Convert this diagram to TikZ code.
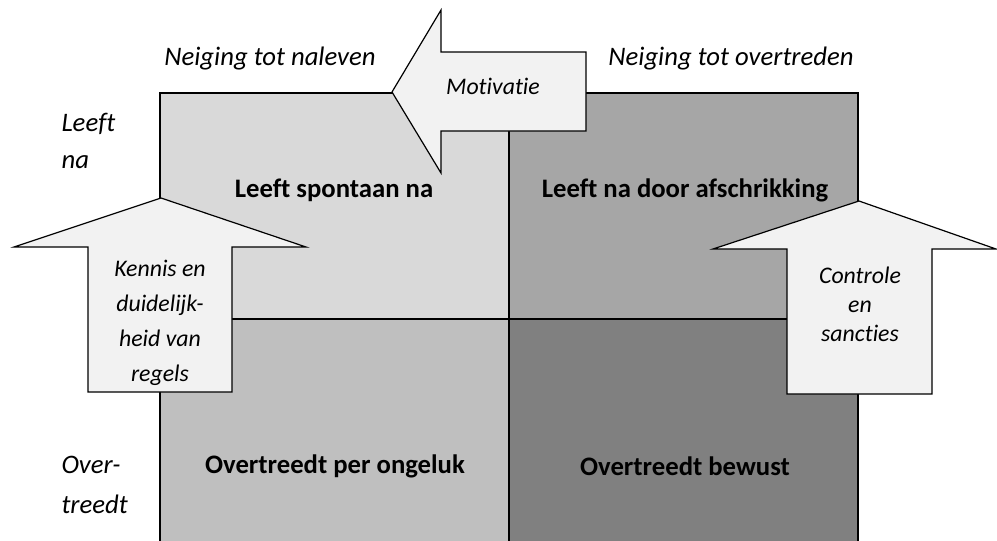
\documentclass[tikz,border=0pt]{standalone}
\usepackage{fontspec}
\setmainfont{Carlito}[Ligatures=NoCommon]
\usetikzlibrary{positioning}
\definecolor{quadnaleven}{HTML}{D9D9D9}
\definecolor{quadafschrik}{HTML}{A6A6A6}
\definecolor{quadongeluk}{HTML}{BFBFBF}
\definecolor{quadbewust}{HTML}{808080}
\definecolor{arrowfill}{HTML}{F2F2F2}
\begin{document}
\begin{tikzpicture}[x=1pt,y=-1pt,
    quad/.style={draw=black,line width=1.6pt,inner sep=0pt,outer sep=0pt,
      minimum width=349pt,minimum height=226pt,anchor=north west},
    bigarrow/.style={draw=black,line width=1.2pt,fill=arrowfill,line join=miter},
    quadlabel/.style={font=\fontsize{26.7}{32}\selectfont\bfseries},
    axislabel/.style={font=\fontsize{26.7}{32}\selectfont\itshape},
    arrowlabel/.style={font=\fontsize{23.8}{28}\selectfont\itshape,align=center}]
  \useasboundingbox (0,0) rectangle (997,541);

  % quadrants
  \node[quad,fill=quadnaleven] (naleven) at (160,93) {};
  \node[quad,fill=quadafschrik] (afschrik) at (509,93) {};
  \node[quad,fill=quadongeluk,minimum height=240pt] (ongeluk) at (160,319) {};
  \node[quad,fill=quadbewust,minimum height=240pt] (bewust) at (509,319) {};

  \node[quadlabel] (lspontaan) at (334,190) {Leeft spontaan na};
  \node[quadlabel] (lafschrik) at (685,190) {Leeft na door afschrikking};
  \node[quadlabel] (longeluk) at (335,466) {Overtreedt per ongeluk};
  \node[quadlabel] (lbewust) at (685,466) {Overtreedt bewust};

  % axes
  \node[axislabel] (naleving) at (270,59) {Neiging tot naleven};
  \node[axislabel] (overtreding) at (731,59) {Neiging tot overtreden};
  \node[axislabel,align=left,anchor=west,
    font=\fontsize{26.7}{37}\selectfont\itshape] (leeftna) at (58,141) {Leeft\\na};
  \node[axislabel,align=left,anchor=west,
    font=\fontsize{26.7}{40}\selectfont\itshape] (overtreedt) at (58,485) {Over-\\treedt};

  % arrows
  \draw[bigarrow] (392,92) -- (441,10) -- (441,52) -- (586,52) -- (586,131)
    -- (441,131) -- (441,173) -- cycle;
  \node[arrowlabel] (motivatie) at (493,86) {Motivatie};

  \draw[bigarrow] (161,198) -- (306,247) -- (232,247) -- (232,392) -- (88,392)
    -- (88,247) -- (14,247) -- cycle;
  \node[arrowlabel,font=\fontsize{23.8}{35}\selectfont\itshape] (kennis) at (160,323)
    {Kennis en\\duidelijk-\\heid van\\regels};

  \draw[bigarrow] (859,201) -- (996,249) -- (932,249) -- (932,394) -- (787,394)
    -- (787,249) -- (713,249) -- cycle;
  \node[arrowlabel,font=\fontsize{23.8}{29}\selectfont\itshape] (controle) at (860,304)
    {Controle\\en\\sancties};
\end{tikzpicture}
\end{document}
